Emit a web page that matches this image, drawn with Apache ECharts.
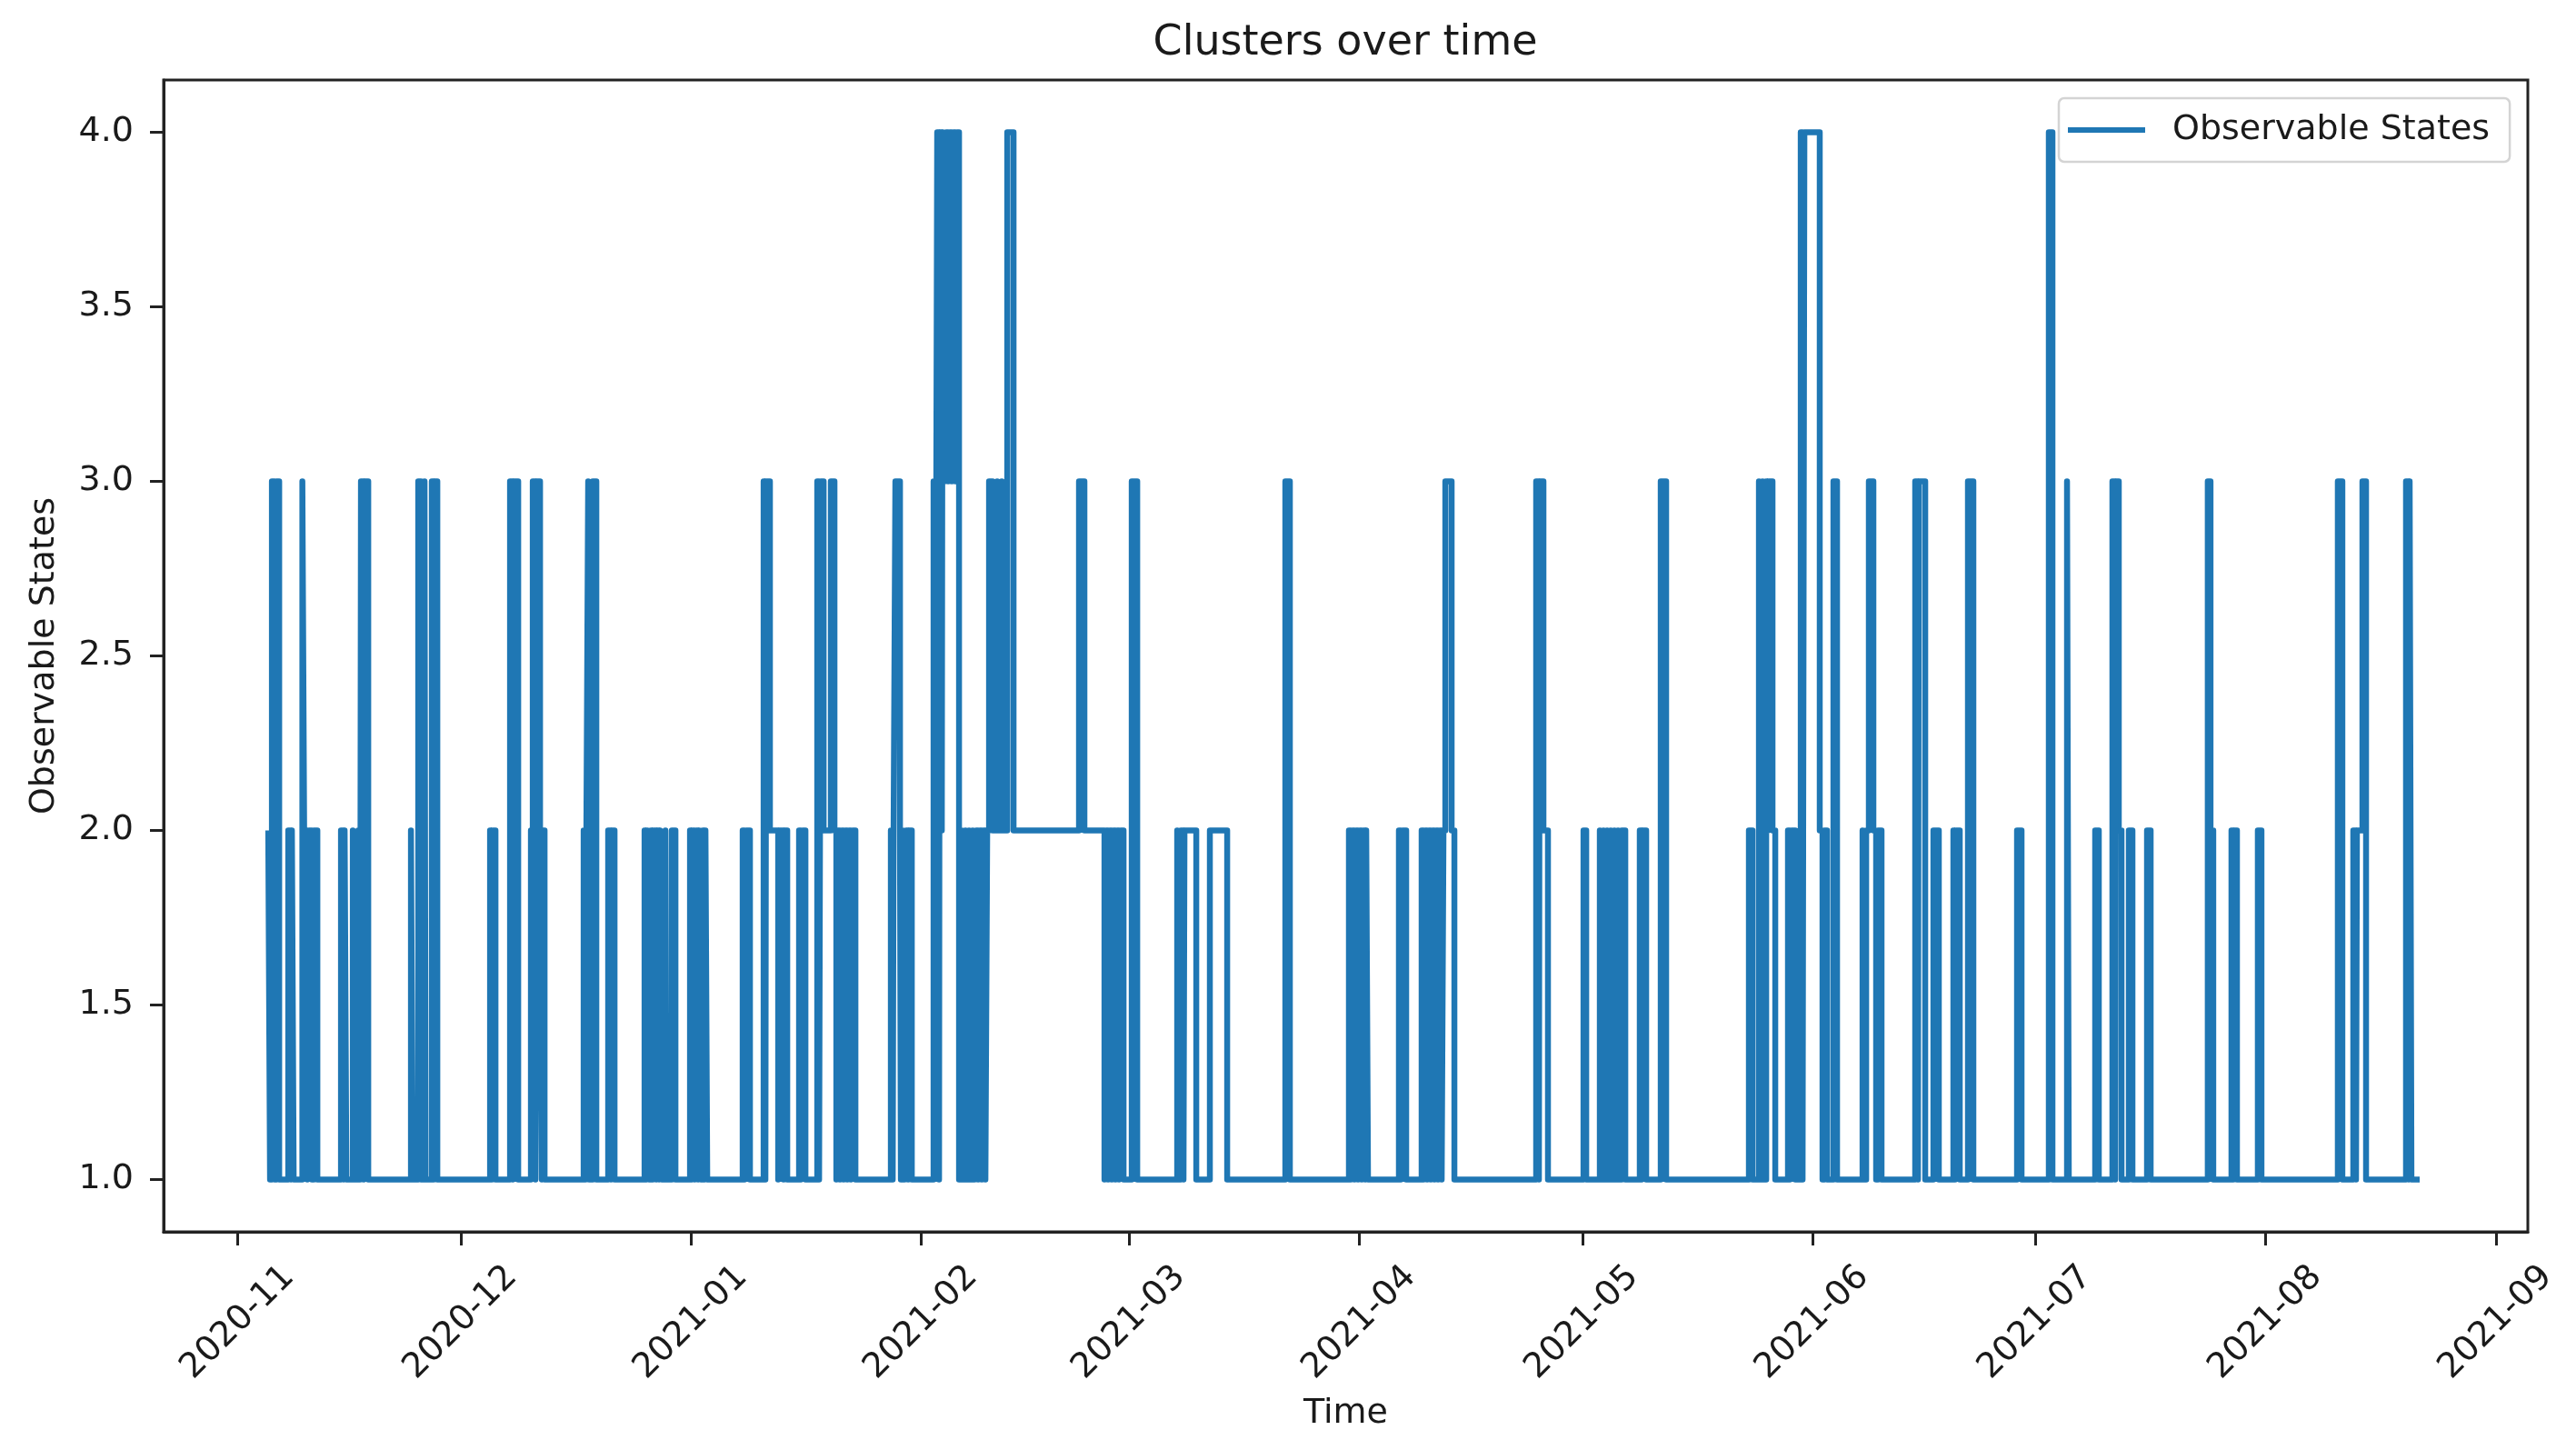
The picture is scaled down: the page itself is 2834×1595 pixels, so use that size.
<!DOCTYPE html>
<html>
<head>
<meta charset="utf-8">
<title>Clusters over time</title>
<script src="https://cdn.jsdelivr.net/npm/echarts@6/dist/echarts.min.js"></script>
<style>
  html, body { margin: 0; padding: 0; background: #fff; }
  #chart { width: 2834px; height: 1595px; }
</style>
</head>
<body>
<div id="chart"></div>
<script>
// change points: days since 2020-11-01 00:00, and the state that starts there
var changeDay = [
  4.09, 4.33, 4.58, 4.94, 5.19, 5.56,
  6.78, 7.15, 7.27, 7.51,
  8.68, 8.92, 9.35, 9.59, 9.96, 10.21, 10.70,
  13.88, 14.24, 14.37, 14.61, 15.47, 15.59,
  16.20, 16.45, 16.57, 16.94, 17.06, 17.55,
  23.30, 23.54, 24.28, 24.65, 25.13, 25.26, 26.11, 26.36, 26.48, 26.85,
  33.95, 34.19, 34.31, 34.68, 36.64, 37.00, 37.13, 37.74,
  39.45, 39.70, 40.06, 40.19, 40.68, 40.92, 41.04, 41.29,
  46.55, 46.79, 46.92, 47.16, 47.28, 47.77, 48.26, 49.85, 50.22, 50.34, 50.71,
  54.75, 54.99, 55.12, 55.36, 55.61, 55.85, 55.97, 56.34, 56.46, 56.71, 56.83, 57.07, 57.56, 57.68, 58.42, 58.91,
  60.87, 61.11, 61.23, 61.48, 61.72, 61.97, 62.09, 62.33, 62.58, 62.82, 62.95, 63.19,
  67.96, 68.21, 68.45, 68.94,
  70.78, 71.02, 71.14, 71.63, 72.74, 72.86, 73.47, 73.59, 73.96,
  75.55, 75.80, 76.04, 76.41,
  78.00, 78.25, 78.49, 78.86, 79.83, 80.32, 80.57, 80.81, 81.06, 81.30, 81.55, 81.79, 82.04, 82.28, 82.53, 82.77, 83.14,
  87.91, 88.16, 88.28, 88.52, 89.14, 89.26, 89.51, 89.75, 89.99, 90.24, 90.36, 90.73,
  93.66, 93.91, 94.15, 94.40, 94.52, 94.77, 94.89, 95.13, 95.37, 95.62, 95.86, 96.11, 96.35, 96.60, 96.84, 97.09,
  97.46, 97.70, 97.95, 98.19, 98.44, 98.68, 98.93, 99.17, 99.41, 99.66, 99.90, 100.15, 100.39, 100.64, 100.88,
  101.13, 101.61, 102.23, 102.35, 102.84, 103.08, 103.58, 104.43, 113.24, 113.97, 116.67,
  116.91, 117.16, 117.40, 117.65, 117.89, 118.14, 118.38, 118.63, 118.87, 119.24, 120.34, 121.08,
  126.46, 126.70, 126.95, 127.31, 127.44, 129.03, 130.86, 133.19, 141.02, 141.63,
  149.58, 149.83, 150.07, 150.32, 150.56, 150.81, 151.05, 151.30, 151.54, 151.79, 151.91, 152.15,
  156.31, 156.56, 156.80, 157.29,
  159.37, 159.62, 159.86, 160.11, 160.35, 160.60, 160.84, 161.09, 161.33, 161.58, 161.82, 162.07, 162.31, 162.56, 163.41, 163.78,
  174.79, 175.16, 175.28, 175.77, 176.38, 181.16, 181.53,
  183.36, 183.60, 183.85, 184.09, 184.34, 184.58, 184.83, 185.07, 185.32, 185.56, 185.81, 186.05, 186.30, 186.79,
  188.74, 188.99, 189.11, 189.60, 191.56, 192.29,
  203.43, 203.92, 204.78, 205.02, 205.27, 205.51, 205.76, 206.00, 206.12, 206.61, 206.98,
  208.69, 208.94, 209.18, 209.68,
  210.41, 210.66, 210.90, 212.97, 213.34, 213.59, 213.95, 214.81, 215.30,
  218.73, 218.97, 219.22, 219.58, 220.19, 220.56, 220.81, 221.29,
  225.82, 226.19, 226.31, 227.17, 228.27, 229.00,
  230.96, 231.20, 231.33, 231.82, 232.92, 233.65, 239.53, 240.14,
  243.81, 244.30, 246.26, 246.50, 250.05, 250.54,
  252.37, 252.74, 252.86, 253.23, 253.60, 254.58, 255.07, 257.03, 257.52,
  265.21, 265.58, 265.95, 268.40, 268.65, 268.77, 269.14, 271.95, 272.44,
  282.72, 283.33, 284.80, 285.17, 285.29, 286.03, 286.52,
  291.90, 292.27, 292.39, 292.63, 293.74
];
var changeState = [
  2, 1, 3, 1, 3, 1,
  2, 1, 2, 1,
  3, 2, 1, 2, 1, 2, 1,
  2, 1, 2, 1, 2, 1,
  2, 1, 3, 1, 3, 1,
  2, 1, 3, 1, 3, 1, 3, 1, 3, 1,
  2, 1, 2, 1, 3, 1, 3, 1,
  2, 3, 1, 3, 2, 1, 2, 1,
  2, 1, 2, 3, 1, 3, 1, 2, 1, 2, 1,
  2, 1, 2, 1, 2, 1, 2, 1, 2, 1, 2, 1, 2, 1, 2, 1,
  2, 1, 2, 1, 2, 1, 2, 1, 2, 1, 2, 1,
  2, 1, 2, 1,
  3, 1, 3, 2, 1, 2, 1, 2, 1,
  2, 1, 2, 1,
  3, 1, 3, 2, 3, 2, 1, 2, 1, 2, 1, 2, 1, 2, 1, 2, 1,
  2, 1, 2, 3, 2, 1, 2, 1, 2, 1, 2, 1,
  3, 2, 4, 1, 4, 2, 4, 3, 4, 3, 4, 3, 4, 3, 4, 1,
  2, 1, 2, 1, 2, 1, 2, 1, 2, 1, 2, 1, 2, 1, 2,
  3, 2, 3, 2, 3, 2, 4, 2, 3, 2, 1,
  2, 1, 2, 1, 2, 1, 2, 1, 2, 1, 3, 1,
  2, 1, 2, 1, 2, 1, 2, 1, 3, 1,
  2, 1, 2, 1, 2, 1, 2, 1, 2, 1, 2, 1,
  2, 1, 2, 1,
  2, 1, 2, 1, 2, 1, 2, 1, 2, 1, 2, 1, 2, 3, 2, 1,
  3, 1, 3, 2, 1, 2, 1,
  2, 1, 2, 1, 2, 1, 2, 1, 2, 1, 2, 1, 2, 1,
  2, 1, 2, 1, 3, 1,
  2, 1, 3, 1, 3, 1, 3, 2, 3, 2, 1,
  2, 1, 2, 1,
  4, 1, 4, 2, 1, 2, 1, 3, 1,
  2, 1, 2, 3, 2, 1, 2, 1,
  3, 1, 3, 1, 2, 1,
  2, 1, 2, 1, 3, 1, 2, 1,
  4, 1, 3, 1, 2, 1,
  3, 1, 3, 2, 1, 2, 1, 2, 1,
  3, 2, 1, 2, 1, 2, 1, 2, 1,
  3, 1, 2, 1, 2, 3, 1,
  3, 1, 3, 1, 1
];

var monthLabels = ['2020-11', '2020-12', '2021-01', '2021-02', '2021-03', '2021-04',
                   '2021-05', '2021-06', '2021-07', '2021-08', '2021-09'];
var yTicks = [1.0, 1.5, 2.0, 2.5, 3.0, 3.5, 4.0];
var axisDays = [-10.0, 308.3];   // visible time span, days since 2020-11-01

var DAY = 86400000;
var dayZero = new Date(2020, 10, 1).getTime();
function toTime(d) { return dayZero + d * DAY; }

var seriesData = changeDay.map(function (d, i) { return [toTime(d), changeState[i]]; });
var monthTicks = monthLabels.map(function (s) {
  return new Date(+s.slice(0, 4), +s.slice(5, 7) - 1, 1).getTime();
});

var font = '"DejaVu Sans", sans-serif';
var ink = '#1a1a1a';
var chart = echarts.init(document.getElementById('chart'), null, { renderer: 'canvas' });

chart.setOption({
  animation: false,
  backgroundColor: '#fff',
  textStyle: { fontFamily: font },
  graphic: [{
    type: 'text',
    x: 1480, y: 48,
    style: {
      text: 'Clusters over time',
      font: '46px ' + font,
      fill: ink,
      align: 'center',
      verticalAlign: 'middle'
    }
  }],
  grid: {
    left: 180, right: 53, top: 88, bottom: 240,
    show: true, borderColor: '#222', borderWidth: 3,
    backgroundColor: 'transparent'
  },
  legend: {
    data: ['Observable States'],
    left: 2265, top: 108,
    orient: 'horizontal',
    icon: 'rect',
    itemWidth: 85, itemHeight: 6,
    padding: [14, 22, 14, 10],
    backgroundColor: '#fff',
    borderColor: '#d4d4d4', borderWidth: 2.5, borderRadius: 6,
    textStyle: { fontSize: 38, color: ink, fontFamily: font, lineHeight: 42, padding: [0, 0, 0, 25] }
  },
  xAxis: {
    // timestamps on a plain value axis, so month ticks can be placed exactly
    type: 'value',
    min: toTime(axisDays[0]),
    max: toTime(axisDays[1]),
    name: 'Time',
    nameLocation: 'middle',
    nameGap: 181,
    nameTextStyle: { fontSize: 38, color: ink, fontFamily: font, verticalAlign: 'top' },
    axisLine: { show: true, lineStyle: { color: '#222', width: 3 } },
    axisTick: { show: true, inside: false, length: 15, customValues: monthTicks,
                lineStyle: { color: '#222', width: 3 } },
    axisLabel: {
      customValues: monthTicks,
      rotate: 45,
      align: 'center',
      verticalAlign: 'middle',
      margin: 100,
      fontSize: 38, color: ink, fontFamily: font,
      formatter: function (v) {
        var i = monthTicks.indexOf(v);
        return i >= 0 ? monthLabels[i] : '';
      }
    },
    splitLine: { show: false }
  },
  yAxis: {
    type: 'value',
    min: 0.85, max: 4.15,
    name: 'Observable States',
    nameLocation: 'middle',
    nameRotate: 90,
    nameGap: 112,
    nameTextStyle: { fontSize: 38, color: ink, fontFamily: font },
    axisLine: { show: true, lineStyle: { color: '#222', width: 3 } },
    axisTick: { show: true, inside: false, length: 15, customValues: yTicks,
                lineStyle: { color: '#222', width: 3 } },
    axisLabel: {
      customValues: yTicks,
      margin: 33,
      fontSize: 38, color: ink, fontFamily: font,
      formatter: function (v) { return v.toFixed(1); }
    },
    splitLine: { show: false }
  },
  series: [{
    name: 'Observable States',
    type: 'line',
    step: 'end',
    data: seriesData,
    showSymbol: false,
    symbol: 'none',
    color: '#1f77b4',
    lineStyle: { color: '#1f77b4', width: 6.5, join: 'round' },
    emphasis: { disabled: true },
    clip: true
  }]
});
</script>
</body>
</html>
